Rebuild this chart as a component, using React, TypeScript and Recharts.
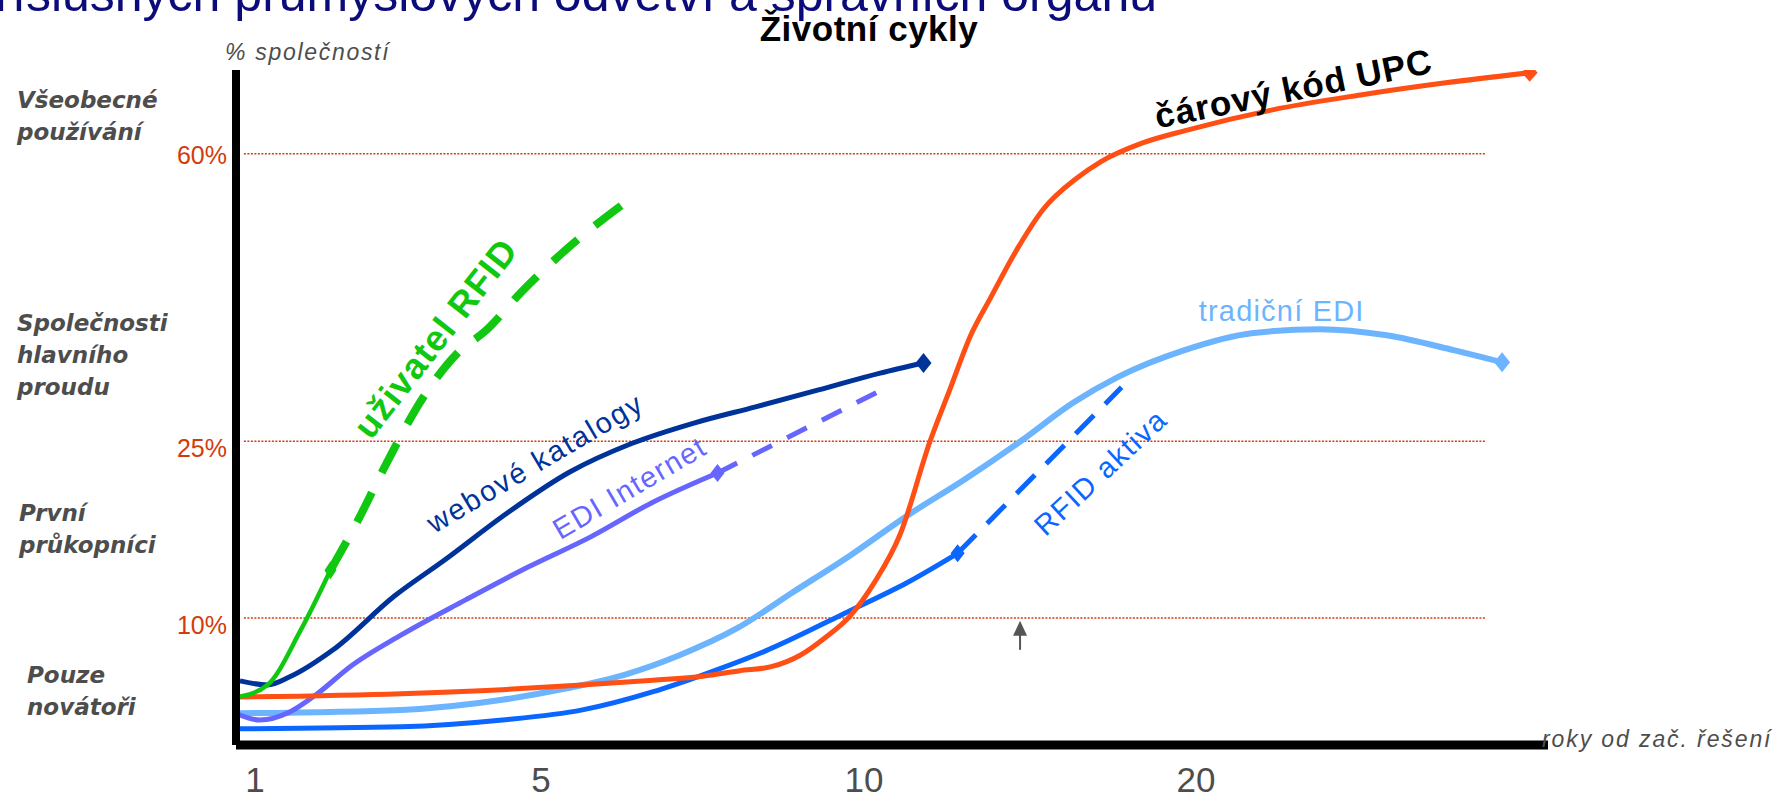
import React from "react";
import { LineChart, Line, XAxis, YAxis, ReferenceLine, ReferenceDot } from "recharts";

// x and y are in "chart units" (0-100 along each axis); the axis ticks are labelled separately
const xTickValues = [1.45, 23.25, 47.87, 73.17];
const xTickLabels = ["1", "5", "10", "20"];
const yTickValues = [18.8, 45.0, 87.6];
const yTickLabels = ["10%", "25%", "60%"];

const upcX = [0.3, 12.6, 20.3, 26.4, 31.8, 35.6, 38.4, 40.8, 43.0, 44.9, 46.8, 48.7, 50.6, 52.9, 54.4, 56.0, 57.5, 59.4, 61.5, 64.1, 65.9, 69.1, 72.5, 79.0, 85.7, 92.2, 98.6];
const upcY = [7.1, 7.6, 8.2, 8.9, 9.6, 10.2, 11.0, 11.6, 13.3, 15.9, 19.1, 24.2, 31.1, 45.0, 52.6, 60.7, 66.2, 73.0, 79.3, 84.0, 86.4, 89.2, 91.1, 94.1, 96.3, 98.1, 99.6];

const tradEdiX = [0.3, 12.6, 20.3, 25.2, 29.6, 33.8, 38.2, 42.5, 46.9, 51.1, 55.5, 59.8, 63.8, 67.2, 72.3, 77.4, 82.6, 87.7, 92.8, 96.5];
const tradEdiY = [4.7, 5.2, 6.7, 8.4, 10.4, 13.3, 17.3, 22.7, 28.2, 33.9, 39.3, 45.0, 50.7, 54.5, 58.5, 61.0, 61.6, 60.7, 58.5, 56.7];

const rfidActiveX = [0.3, 12.6, 20.3, 26.4, 31.8, 35.6, 40.2, 46.8, 51.1, 55.0];
const rfidActiveY = [2.4, 2.7, 3.7, 5.2, 7.9, 10.4, 13.8, 19.9, 24.0, 28.4];
const rfidActiveDashX = [55.0, 67.5];
const rfidActiveDashY = [28.4, 53.0];

const webCatX = [0.3, 2.4, 4.1, 7.4, 12.1, 15.9, 20.7, 25.4, 30.2, 34.9, 39.6, 44.4, 49.1, 52.4];
const webCatY = [9.5, 8.9, 10.1, 14.1, 22.1, 27.4, 34.4, 40.4, 44.7, 47.7, 50.1, 52.6, 55.1, 56.6];

const rfidUserX = [0.1, 2.4, 4.9, 7.2];
const rfidUserY = [7.1, 8.9, 16.9, 25.9];
const rfidUserDashX = [7.2, 9.3, 11.2, 14.3, 16.9, 19.1, 21.7, 25.1, 29.9];
const rfidUserDashY = [25.9, 33.3, 40.7, 51.6, 58.1, 61.5, 67.0, 73.3, 80.7];

const ediNetX = [0.1, 1.8, 4.1, 6.2, 8.7, 12.5, 17.5, 22.3, 27.0, 31.7, 36.7];
const ediNetY = [4.6, 3.7, 4.9, 7.6, 11.6, 16.2, 21.5, 26.4, 30.8, 35.9, 40.3];
const ediNetDashX = [36.7, 48.8];
const ediNetDashY = [40.3, 52.2];

const toPoints = (xs: number[], ys: number[]) => xs.map((x, i) => ({ x, y: ys[i] }));

const SANS = "'Liberation Sans', Arial, sans-serif";
const GRAY = "#4d4d4d";
const RED = "#d23c0c";

const makeMarker = (color: string, at: number, w: number, h: number) => (props: any) => {
  const { cx, cy, index } = props;
  if (index !== at || cx == null) return <g key={`m-${index}`} />;
  return (
    <polygon
      key={`m-${index}`}
      points={`${cx},${cy - h} ${cx + w},${cy} ${cx},${cy + h} ${cx - w},${cy}`}
      fill={color}
    />
  );
};

const XTick = (props: any) => {
  const { x, y, payload } = props;
  const i = xTickValues.indexOf(payload.value);
  return (
    <text x={x} y={y + 47} textAnchor="middle" fontSize={35} fill={GRAY} fontFamily={SANS}>
      {xTickLabels[i]}
    </text>
  );
};

const YTick = (props: any) => {
  const { x, y, payload } = props;
  const i = yTickValues.indexOf(payload.value);
  const shift = i === 2 ? 1 : 7;
  return (
    <text x={x} y={y + shift} textAnchor="end" dominantBaseline="central" fontSize={25} fill={RED} fontFamily={SANS}>
      {yTickLabels[i]}
    </text>
  );
};

const notes = [
  { text: "uživatel RFID", x: 15.2, y: 60.3, angle: -52, color: "#11c811", size: 36, weight: 700, ls: 1.2 },
  { text: "webové katalogy", x: 22.8, y: 41.8, angle: -30.5, color: "#003399", size: 29, weight: 400, ls: 2 },
  { text: "EDI Internet", x: 30.0, y: 38.1, angle: -30.5, color: "#6666ff", size: 29, weight: 400, ls: 1.5 },
  { text: "RFID aktiva", x: 65.9, y: 40.4, angle: -43, color: "#0a66ff", size: 29, weight: 400, ls: 1.6 },
  { text: "tradiční EDI", x: 79.7, y: 64.3, angle: 0, color: "#6db4ff", size: 29, weight: 400, ls: 1.2 },
  { text: "čárový kód UPC", x: 80.6, y: 97.3, angle: -11.5, color: "#000", size: 35, weight: 700, ls: 1 },
];

const leftLabels = [
  { lines: ["Všeobecné", "používání"], x: 17, y: 108 },
  { lines: ["Společnosti", "hlavního", "proudu"], x: 17, y: 331 },
  { lines: ["První", "průkopníci"], x: 19, y: 521 },
  { lines: ["Pouze", "novátoři"], x: 27, y: 683 },
];

export default function App() {
  return (
    <div style={{ position: "absolute", left: 0, top: 0, width: 1778, height: 795, overflow: "hidden", background: "#fff" }}>
      <LineChart width={1778} height={795} margin={{ top: 70, right: 230, bottom: 0, left: 0 }}>
        <XAxis
          type="number"
          dataKey="x"
          domain={[0, 100]}
          ticks={xTickValues}
          interval={0}
          height={50}
          axisLine={{ stroke: "#000", strokeWidth: 9 }}
          tickLine={false}
          tickSize={0}
          tickMargin={0}
          tick={XTick}
          allowDataOverflow
        />
        <YAxis
          type="number"
          dataKey="y"
          domain={[0, 100]}
          ticks={yTickValues}
          interval={0}
          width={236}
          axisLine={{ stroke: "#000", strokeWidth: 8 }}
          tickLine={false}
          tickSize={9}
          tickMargin={0}
          tick={YTick}
          allowDataOverflow
        />
        {yTickValues.map((v) => (
          <ReferenceLine
            key={v}
            segment={[{ x: 0.6, y: v }, { x: 95.2, y: v }]}
            stroke={RED}
            strokeWidth={1.5}
            strokeDasharray="2 1.5"
          />
        ))}

        <Line data={toPoints(tradEdiX, tradEdiY)} dataKey="y" type="monotone" stroke="#6db4ff" strokeWidth={6} dot={makeMarker("#6db4ff", tradEdiX.length - 1, 8, 10)} isAnimationActive={false} />
        <Line data={toPoints(rfidActiveX, rfidActiveY)} dataKey="y" type="monotone" stroke="#0a66ff" strokeWidth={5} dot={makeMarker("#0a66ff", rfidActiveX.length - 1, 7, 9)} isAnimationActive={false} />
        <Line data={toPoints(rfidActiveDashX, rfidActiveDashY)} dataKey="y" type="linear" stroke="#0a66ff" strokeWidth={5} strokeDasharray="26 16" dot={false} isAnimationActive={false} />
        <Line data={toPoints(ediNetX, ediNetY)} dataKey="y" type="monotone" stroke="#6666ff" strokeWidth={5} dot={makeMarker("#6666ff", ediNetX.length - 1, 7, 9)} isAnimationActive={false} />
        <Line data={toPoints(ediNetDashX, ediNetDashY)} dataKey="y" type="linear" stroke="#6666ff" strokeWidth={5} strokeDasharray="22 17" dot={false} isAnimationActive={false} />
        <Line data={toPoints(webCatX, webCatY)} dataKey="y" type="monotone" stroke="#003399" strokeWidth={5} dot={makeMarker("#003399", webCatX.length - 1, 8, 10)} isAnimationActive={false} />
        <Line data={toPoints(upcX, upcY)} dataKey="y" type="monotone" stroke="#ff4f14" strokeWidth={5} dot={makeMarker("#ff4f14", upcX.length - 1, 8, 9)} isAnimationActive={false} />
        <Line data={toPoints(rfidUserX, rfidUserY)} dataKey="y" type="monotone" stroke="#11c811" strokeWidth={4.5} dot={makeMarker("#11c811", rfidUserX.length - 1, 6, 9)} isAnimationActive={false} />
        <Line data={toPoints(rfidUserDashX, rfidUserDashY)} dataKey="y" type="monotone" stroke="#11c811" strokeWidth={8} strokeDasharray="33 22" dot={false} isAnimationActive={false} />

        <ReferenceLine segment={[{ x: 59.76, y: 14.1 }, { x: 59.76, y: 16.5 }]} stroke="#555" strokeWidth={2} />
        <ReferenceDot
          x={59.76}
          y={18.4}
          r={0}
          shape={(p: any) => (
            <polygon points={`${p.cx},${p.cy} ${p.cx - 7},${p.cy + 15} ${p.cx + 7},${p.cy + 15}`} fill="#555" />
          )}
        />

        {notes.map((n) => (
          <ReferenceDot
            key={n.text}
            x={n.x}
            y={n.y}
            r={0}
            shape={(p: any) => (
              <text
                x={p.cx}
                y={p.cy}
                transform={`rotate(${n.angle} ${p.cx} ${p.cy})`}
                textAnchor="middle"
                dominantBaseline="central"
                fontFamily={SANS}
                fontSize={n.size}
                fontWeight={n.weight}
                letterSpacing={n.ls}
                fill={n.color}
              >
                {n.text}
              </text>
            )}
          />
        ))}
      </LineChart>

      <svg width={1778} height={795} style={{ position: "absolute", left: 0, top: 0, pointerEvents: "none" }}>
        <text x={1157} y={11} textAnchor="end" fontFamily={SANS} fontSize={50} fill="#0b0b7a">
          příslušných průmyslových odvětví a správních orgánů
        </text>
        <text x={869} y={41} textAnchor="middle" fontFamily={SANS} fontSize={35} fontWeight={700} letterSpacing={0.5} fill="#000">
          Životní cykly
        </text>
        <text x={225} y={60} fontFamily={SANS} fontSize={23} fontStyle="italic" letterSpacing={1.7} fill={GRAY}>
          % společností
        </text>
        <text x={1542} y={747} fontFamily={SANS} fontSize={23} fontStyle="italic" letterSpacing={1.9} fill={GRAY}>
          roky od zač. řešení
        </text>
        {leftLabels.map((l) =>
          l.lines.map((line, i) => (
            <text
              key={line}
              x={l.x}
              y={l.y + i * 32}
              fontFamily="'DejaVu Sans', Verdana, sans-serif"
              fontSize={23}
              fontWeight={700}
              fontStyle="italic"
              fill={GRAY}
            >
              {line}
            </text>
          ))
        )}
      </svg>
    </div>
  );
}
